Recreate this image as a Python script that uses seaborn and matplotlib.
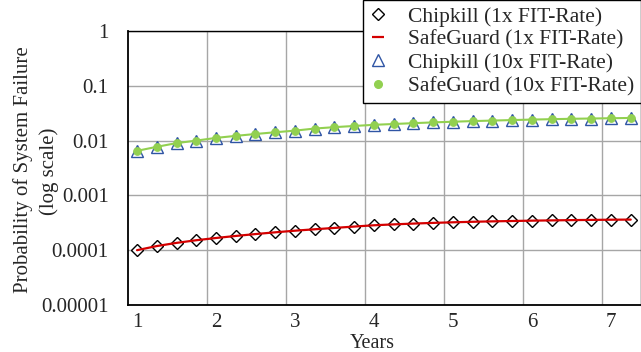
import numpy as np
import pandas as pd
import matplotlib
matplotlib.use('Agg')

import matplotlib.pyplot as plt
import seaborn as sns
from matplotlib.lines import Line2D
from matplotlib.ticker import FixedLocator, FixedFormatter

# ================= DATA =================

years = [1.00, 1.25, 1.50, 1.75, 2.00, 2.25, 2.50, 2.75, 3.00, 3.25,
         3.50, 3.75, 4.00, 4.25, 4.50, 4.75, 5.00, 5.25, 5.50, 5.75,
         6.00, 6.25, 6.50, 6.75, 7.00, 7.25]

chipkill_1x = [1.00e-4, 1.19e-4, 1.36e-4, 1.52e-4, 1.67e-4, 1.82e-4, 1.97e-4,
               2.12e-4, 2.27e-4, 2.41e-4, 2.55e-4, 2.70e-4, 2.85e-4, 2.96e-4,
               3.06e-4, 3.15e-4, 3.23e-4, 3.30e-4, 3.36e-4, 3.41e-4, 3.46e-4,
               3.50e-4, 3.54e-4, 3.57e-4, 3.60e-4, 3.62e-4]

safeguard_1x = [1.00e-4, 1.19e-4, 1.36e-4, 1.52e-4, 1.67e-4, 1.82e-4, 1.97e-4,
                2.12e-4, 2.27e-4, 2.41e-4, 2.55e-4, 2.70e-4, 2.85e-4, 2.96e-4,
                3.06e-4, 3.15e-4, 3.23e-4, 3.30e-4, 3.36e-4, 3.41e-4, 3.46e-4,
                3.50e-4, 3.54e-4, 3.57e-4, 3.60e-4, 3.62e-4]

chipkill_10x = [0.0065, 0.0077, 0.0090, 0.0100, 0.0112, 0.0122, 0.0132,
                0.0142, 0.0152, 0.0166, 0.0176, 0.0185, 0.0194, 0.0201,
                0.0208, 0.0215, 0.0221, 0.0227, 0.0232, 0.0237, 0.0242,
                0.0246, 0.0250, 0.0253, 0.0256, 0.0259]

safeguard_10x = [0.0065, 0.0077, 0.0090, 0.0100, 0.0112, 0.0122, 0.0132,
                 0.0142, 0.0152, 0.0166, 0.0176, 0.0185, 0.0194, 0.0201,
                 0.0208, 0.0215, 0.0221, 0.0227, 0.0232, 0.0237, 0.0242,
                 0.0246, 0.0250, 0.0253, 0.0256, 0.0259]

labels = ['Chipkill (1x FIT-Rate)', 'SafeGuard (1x FIT-Rate)',
          'Chipkill (10x FIT-Rate)', 'SafeGuard (10x FIT-Rate)']

year_ticks = [1, 2, 3, 4, 5, 6, 7]
grid_years = [1.886, 2.886, 3.886, 4.886, 5.886, 6.886]

y_ticks = [1e-5, 1e-4, 1e-3, 1e-2, 1e-1, 1]
y_tick_labels = ['0.00001', '0.0001', '0.001', '0.01', '0.1', '1']

ylabel_lines = ['Probability of System Failure', '(log scale)']

RED = '#d40000'
BLUE = '#2f55a4'
GREEN = '#92d050'

# ================= STYLE =================

sns.set_theme(style='white')
plt.rcParams['font.family'] = ['Liberation Serif', 'DejaVu Serif']

W, H = 641, 352
fig = plt.figure(figsize=(W / 100, H / 100), dpi=100)
ax = fig.add_axes([128 / W, 1 - 305 / H, 513 / W, 274 / H])

# ================= PLOT =================

sns.lineplot(x=years, y=chipkill_1x, ax=ax, linestyle='none', marker='D',
             markersize=6, markerfacecolor='white', markeredgecolor='black',
             markeredgewidth=1.0)

sns.lineplot(x=years, y=safeguard_1x, ax=ax, color=RED, lw=1.6)

sns.lineplot(x=years, y=chipkill_10x, ax=ax, linestyle='none', marker='^',
             markersize=9, markerfacecolor='white', markeredgecolor=BLUE,
             markeredgewidth=1.0)

sns.lineplot(x=years, y=safeguard_10x, ax=ax, color=GREEN, lw=1.5)

sns.lineplot(x=years, y=safeguard_10x, ax=ax, linestyle='none', marker='o',
             markersize=5.5, markerfacecolor=GREEN, markeredgecolor=GREEN,
             color=GREEN)

ax.set_yscale('log')
ax.set_ylim(1e-5, 1)
ax.set_xlim(0.886, 7.38)

ax.yaxis.set_major_locator(FixedLocator(y_ticks))
ax.yaxis.set_major_formatter(FixedFormatter(y_tick_labels))
ax.yaxis.set_minor_locator(FixedLocator([]))

ax.set_xticks(year_ticks)
ax.set_xticklabels([str(v) for v in year_ticks])
ax.set_xticks(grid_years, minor=True)

ax.tick_params(axis='both', which='both', length=0, labelsize=15)
ax.tick_params(axis='y', pad=14)
ax.tick_params(axis='x', pad=6)

ax.grid(False)
ax.grid(True, which='major', axis='y', color='#a6a6a6', lw=1)
ax.grid(True, which='minor', axis='x', color='#a6a6a6', lw=1)

for s in ax.spines.values():
    s.set_color('black')
    s.set_linewidth(1.0)
ax.spines['left'].set_linewidth(1.3)
ax.spines['bottom'].set_linewidth(1.3)

ax.set_xlabel('Years', fontsize=14.5)
ax.xaxis.set_label_coords(0.476, -0.105)

# y label as two centred lines
ax.set_ylabel('')
fig.text(23 / W, 1 - 170 / H, ylabel_lines[0], rotation=90, fontsize=15,
         ha='center', va='center')
fig.text(49 / W, 1 - 171 / H, ylabel_lines[1], rotation=90, fontsize=15,
         ha='center', va='center')

# ================= LEGEND =================

handles = [
    Line2D([], [], linestyle='none', marker='D', markersize=6,
           markerfacecolor='white', markeredgecolor='black', markeredgewidth=1.0),
    Line2D([], [], linestyle='none', marker='_', markersize=8,
           markeredgecolor=RED, markeredgewidth=1.6),
    Line2D([], [], linestyle='none', marker='^', markersize=9,
           markerfacecolor='white', markeredgecolor=BLUE, markeredgewidth=1.0),
    Line2D([], [], linestyle='none', marker='o', markersize=5.5,
           markerfacecolor=GREEN, markeredgecolor=GREEN),
]

leg = ax.legend(handles, labels, loc='upper right', bbox_to_anchor=(1.0, 1.0),
                bbox_transform=fig.transFigure, borderaxespad=0,
                fontsize=15.5, frameon=True, fancybox=False, framealpha=1,
                edgecolor='black', labelspacing=0.145, handlelength=0.8,
                handletextpad=1.0, borderpad=0.3)
leg.get_frame().set_linewidth(1.0)

fig.savefig('out.png', dpi=100)
plt.close()
